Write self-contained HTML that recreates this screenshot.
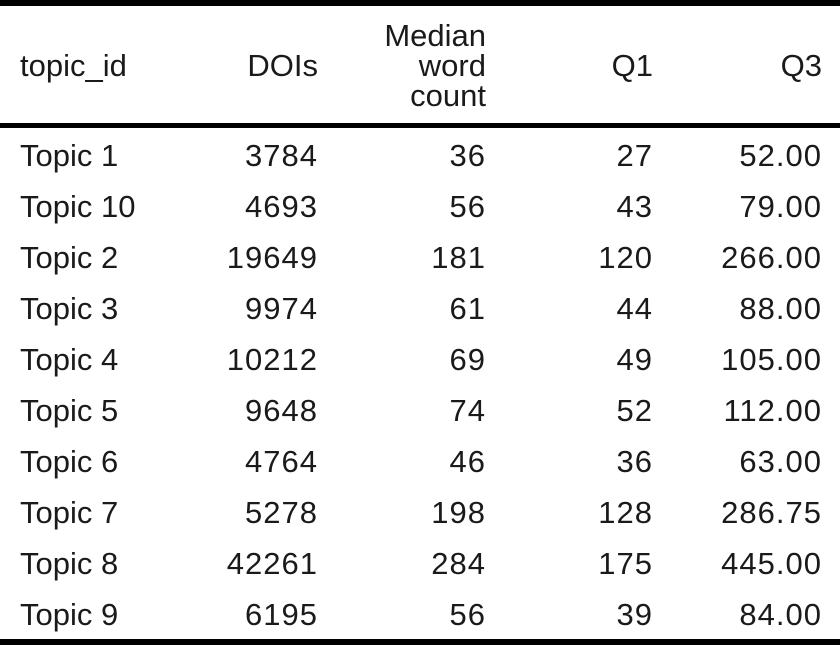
<!DOCTYPE html>
<html><head><meta charset="utf-8"><style>
html,body{margin:0;padding:0;background:#fff;}
svg{display:block;font-family:"Liberation Sans",Arial,sans-serif;font-size:31px;fill:#1a1a1a;}
.num{letter-spacing:1px;}
</style></head><body>
<svg width="840" height="645" viewBox="0 0 840 645">
<rect x="0" y="0" width="840" height="6" fill="#000"/>
<rect x="0" y="123" width="840" height="5" fill="#000"/>
<rect x="0" y="639" width="840" height="6" fill="#000"/>
<g>
<text x="20" y="76">topic_id</text>
<text x="318" y="76" text-anchor="end">DOIs</text>
<text x="486" y="46" text-anchor="end">Median</text>
<text x="486" y="76" text-anchor="end">word</text>
<text x="486" y="106" text-anchor="end">count</text>
<text x="653" y="76" text-anchor="end">Q1</text>
<text x="822" y="76" text-anchor="end">Q3</text>
</g>
<g id="body"></g>
</svg>
<script>
const topics=["Topic 1","Topic 10","Topic 2","Topic 3","Topic 4","Topic 5","Topic 6","Topic 7","Topic 8","Topic 9"];
const dois=[3784,4693,19649,9974,10212,9648,4764,5278,42261,6195];
const medians=[36,56,181,61,69,74,46,198,284,56];
const q1s=[27,43,120,44,49,52,36,128,175,39];
const q3s=["52.00","79.00","266.00","88.00","105.00","112.00","63.00","286.75","445.00","84.00"];
const g=document.getElementById('body');
const NS="http://www.w3.org/2000/svg";
const cols=[[20,"start"],[318,"end"],[486,"end"],[653,"end"],[822,"end"]];
const names=["topic","dois","median","q1","q3"];
for(let i=0;i<topics.length;i++){
  const row=document.createElementNS(NS,"g");
  
  
  const vals=[topics[i],dois[i],medians[i],q1s[i],q3s[i]];
  const y=166+i*51;
  for(let c=0;c<5;c++){
    const t=document.createElementNS(NS,"text");
    t.setAttribute('x',cols[c][0]);
    t.setAttribute('y',y);
    t.setAttribute('text-anchor',cols[c][1]);
    if(c>0) t.setAttribute('class','num');
    
    
    t.textContent=vals[c];
    row.appendChild(t);
  }
  g.appendChild(row);
}
</script>
</body></html>
